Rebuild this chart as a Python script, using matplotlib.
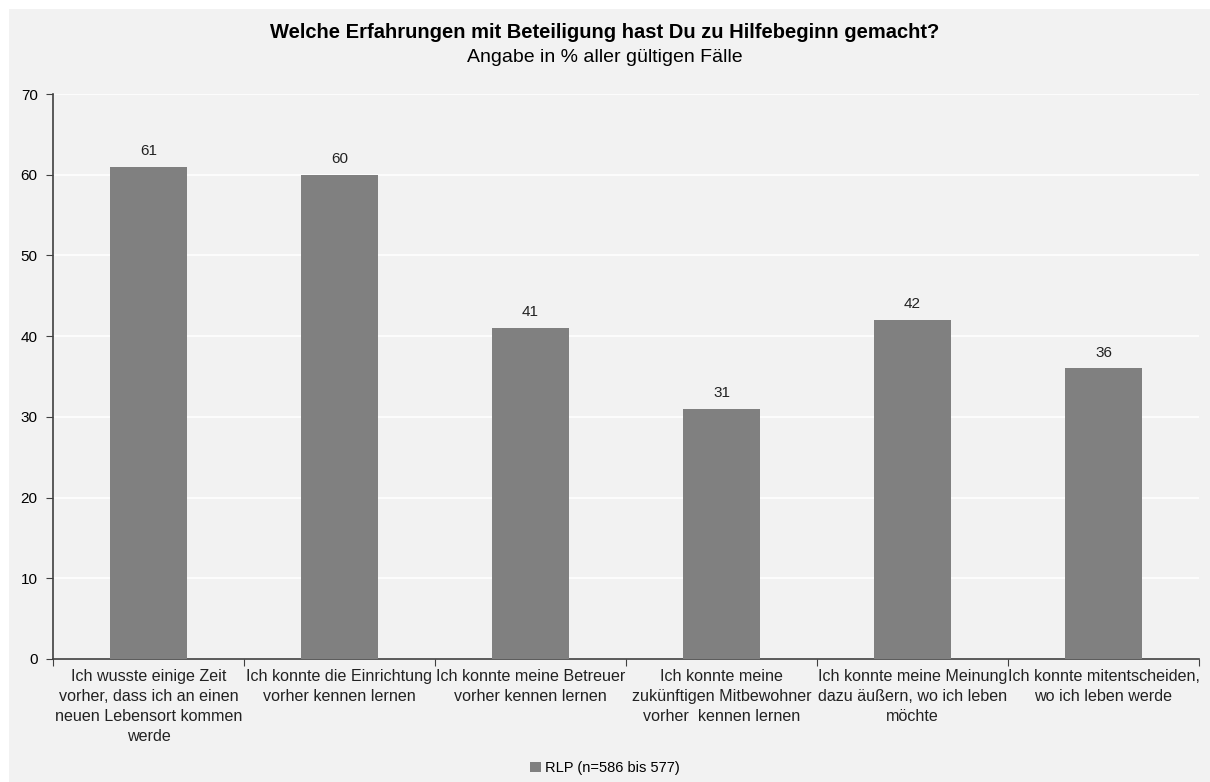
import matplotlib
matplotlib.use("Agg")
import matplotlib.pyplot as plt
from matplotlib.patches import Rectangle
import numpy as np

plt.rcParams['font.family'] = ['Liberation Sans Narrow', 'Liberation Sans', 'DejaVu Sans']

# Daten
kategorien = [
    "Ich wusste einige Zeit\nvorher, dass ich an einen\nneuen Lebensort kommen\nwerde",
    "Ich konnte die Einrichtung\nvorher kennen lernen",
    "Ich konnte meine Betreuer\nvorher kennen lernen",
    "Ich konnte meine\nzukünftigen Mitbewohner\nvorher  kennen lernen",
    "Ich konnte meine Meinung\ndazu äußern, wo ich leben\nmöchte",
    "Ich konnte mitentscheiden,\nwo ich leben werde",
]
werte_rlp = [61, 60, 41, 31, 42, 36]
legende = "RLP (n=586 bis 577)"
y_ticks = [0, 10, 20, 30, 40, 50, 60, 70]

BG = "#f2f2f2"
BAR = "#808080"

fig = plt.figure(figsize=(12.10, 7.82), dpi=100)
fig.patch.set_facecolor("white")
fig.patches.append(Rectangle((9 / 1210, 0), 1, 1 - 9 / 782, transform=fig.transFigure,
                             facecolor=BG, edgecolor="none", zorder=-10))

ax = fig.add_axes([53 / 1210, 1 - 659 / 782, (1199 - 53) / 1210, (659 - 94) / 782])
ax.set_facecolor(BG)

x = np.arange(len(kategorien))
bars = ax.bar(x, werte_rlp, width=0.4, color=BAR, label=legende, zorder=3)
for xi, v in zip(x, werte_rlp):
    ax.text(xi, v + 1.1, f"{v}", ha="center", va="bottom", fontsize=11,
            family=['Liberation Sans', 'DejaVu Sans'], color="#222222")

ax.set_xlim(-0.5, len(kategorien) - 0.5)
ax.set_ylim(0, 70)
ax.set_yticks(y_ticks)
ax.set_yticklabels([str(t) for t in y_ticks], fontsize=11, family=['Liberation Sans', 'DejaVu Sans'])
ax.yaxis.grid(True, color="white", linewidth=1.2, zorder=1)
ax.set_axisbelow(True)

# Kategorie-Trennstriche statt mittiger Ticks
ax.set_xticks(np.arange(len(kategorien) + 1) - 0.5)
ax.set_xticklabels([])
ax.set_xticks(x, minor=True)
ax.set_xticklabels(kategorien, minor=True, fontsize=11.6, color="#222222", linespacing=1.42)
ax.tick_params(axis="x", which="minor", length=0, pad=7)
ax.tick_params(axis="x", which="major", length=5, color="#404040")
ax.tick_params(axis="y", length=5, color="#404040", pad=6)

for s in ["top", "right"]:
    ax.spines[s].set_visible(False)
for s in ["left", "bottom"]:
    ax.spines[s].set_color("#404040")
    ax.spines[s].set_linewidth(1.2)

fig.text(0.5, 1 - 33 / 782, "Welche Erfahrungen mit Beteiligung hast Du zu Hilfebeginn gemacht?",
         ha="center", va="center", fontsize=14.5, fontweight="bold")
fig.text(0.5, 1 - 58 / 782, "Angabe in % aller gültigen Fälle",
         ha="center", va="center", fontsize=14)

fig.legend(handles=[bars], labels=[legende], loc="center", bbox_to_anchor=(0.5, 1 - 768 / 782),
           frameon=False, fontsize=10.5, handlelength=0.7, handleheight=0.7, handletextpad=0.3)

fig.savefig("out.png", dpi=100, facecolor=fig.get_facecolor())
